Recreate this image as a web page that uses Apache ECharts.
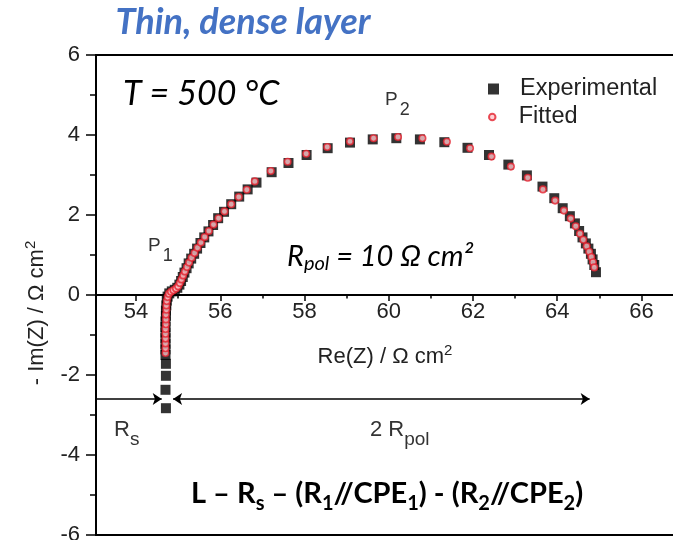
<!DOCTYPE html>
<html>
<head>
<meta charset="utf-8">
<script src="https://cdn.jsdelivr.net/npm/echarts@6/dist/echarts.min.js"></script>
<style>
  html, body { margin: 0; padding: 0; background: #fff; }
  #chart { width: 673px; height: 540px; }
</style>
</head>
<body>
<div id="chart"></div>
<script>
// Impedance spectrum (Nyquist plot), T = 500 °C
const expRe = [54.71, 54.70, 54.71, 54.71, 54.70, 54.70, 54.70, 54.70, 54.70, 54.70, 54.70, 54.71, 54.71, 54.72, 54.73, 54.75,
  54.79, 54.85, 54.92, 54.98, 55.03, 55.07, 55.11, 55.15, 55.20, 55.25, 55.31, 55.38, 55.45, 55.53, 55.62, 55.72,
  55.83, 55.95, 56.09, 56.26, 56.45, 56.65, 56.86, 57.22, 57.62, 58.05, 58.55, 59.08, 59.62, 60.18, 60.74, 61.32,
  61.87, 62.38, 62.84, 63.28, 63.65, 63.93, 64.13, 64.30, 64.42, 64.52, 64.60, 64.68, 64.74, 64.80, 64.84, 64.88, 64.92];
const expIm = [-2.83, -2.37, -2.02, -1.72, -1.50, -1.36, -1.22, -1.08, -0.94, -0.80, -0.66, -0.52, -0.39, -0.26, -0.14, -0.04,
  0.04, 0.09, 0.13, 0.18, 0.26, 0.35, 0.45, 0.56, 0.67, 0.79, 0.91, 1.03, 1.16, 1.30, 1.44, 1.59,
  1.75, 1.92, 2.08, 2.27, 2.46, 2.64, 2.81, 3.07, 3.30, 3.50, 3.67, 3.81, 3.89, 3.92, 3.89, 3.82,
  3.68, 3.50, 3.26, 2.99, 2.71, 2.42, 2.17, 1.97, 1.79, 1.60, 1.44, 1.29, 1.16, 1.03, 0.89, 0.75, 0.57];

const fitRe = [54.70, 54.70, 54.70, 54.70, 54.70, 54.70, 54.71, 54.71, 54.71, 54.72, 54.72, 54.73, 54.75, 54.78, 54.83, 54.89,
  54.95, 55.00, 55.04, 55.08, 55.12, 55.16, 55.21, 55.26, 55.32, 55.39, 55.46, 55.54, 55.63, 55.73, 55.84, 55.96,
  56.10, 56.26, 56.44, 56.63, 56.82, 57.20, 57.60, 58.04, 58.54, 59.08, 59.64, 60.22, 60.80, 61.38, 61.93, 62.44,
  62.90, 63.30, 63.66, 63.95, 64.16, 64.32, 64.44, 64.54, 64.62, 64.70, 64.76, 64.81, 64.85, 64.88];
const fitIm = [-1.45, -1.33, -1.21, -1.09, -0.97, -0.85, -0.73, -0.61, -0.49, -0.37, -0.26, -0.15, -0.05, 0.03, 0.08, 0.12,
  0.16, 0.22, 0.30, 0.39, 0.49, 0.59, 0.70, 0.81, 0.93, 1.05, 1.18, 1.31, 1.45, 1.60, 1.76, 1.92,
  2.09, 2.27, 2.45, 2.63, 2.84, 3.10, 3.33, 3.53, 3.70, 3.84, 3.92, 3.95, 3.92, 3.83, 3.67, 3.46,
  3.21, 2.93, 2.64, 2.36, 2.11, 1.91, 1.72, 1.53, 1.38, 1.22, 1.08, 0.95, 0.82, 0.69];

// Axis ticks
const reMajorTicks = [54, 56, 58, 60, 62, 64, 66];
const reMinorTicks = [55, 57, 59, 61, 63, 65];
const reRange = [53.05, 66.82];
const imRange = [-6, 6];

// Resistance arrows: R_s (from axis to intercept) and 2 R_pol (arc span)
const rsArrowRe = [53.05, 54.61];
const rpolArrowRe = [54.88, 64.77];
const arrowIm = -2.6;

const arial = 'Arial, "Liberation Sans", sans-serif';
const lato = 'Lato, Carlito, Calibri, sans-serif';
const ink = '#222';

// plot geometry (pixels)
const gridLeft = 96, gridTop = 55, gridBottom = 5, chartH = 540;
const pxPerIm = (chartH - gridTop - gridBottom) / (imRange[1] - imRange[0]);
const zeroLineHeight = imRange[1] * pxPerIm;      // distance from top of plot down to Im = 0
const minorTickDepth = 3.5 / pxPerIm;             // short ticks below the Re axis

const zip = (xs, ys) => xs.map((x, i) => [x, ys[i]]);

const chart = echarts.init(document.getElementById('chart'), null, { renderer: 'canvas' });

chart.setOption({
  animation: false,
  backgroundColor: '#fff',
  grid: [
    {
      // data area with frame
      left: gridLeft, right: -3, top: gridTop, bottom: gridBottom,
      outerBoundsMode: 'none', containLabel: false,
      show: true, borderColor: '#000', borderWidth: 2, backgroundColor: 'transparent'
    },
    {
      // upper half: its bottom edge carries the Re axis through Im = 0
      left: gridLeft, right: -3, top: gridTop, height: zeroLineHeight,
      outerBoundsMode: 'none', containLabel: false, show: false
    }
  ],
  xAxis: [
    { gridIndex: 0, type: 'value', min: reRange[0], max: reRange[1], show: false },
    {
      gridIndex: 1, type: 'value', min: reRange[0], max: reRange[1], position: 'bottom',
      axisLine: { onZero: false, lineStyle: { color: '#000', width: 2 } },
      axisTick: { customValues: reMajorTicks, length: 6, lineStyle: { color: '#000', width: 1.5 } },
      axisLabel: { customValues: reMajorTicks, fontSize: 22, fontFamily: arial, color: ink, margin: 6 },
      splitLine: { show: false }
    }
  ],
  yAxis: [
    {
      gridIndex: 0, type: 'value', min: imRange[0], max: imRange[1], interval: 2,
      axisLine: { onZero: false, lineStyle: { color: '#000', width: 2 } },
      axisTick: { length: 10, lineStyle: { color: '#000', width: 1.5 } },
      minorTick: { show: true, splitNumber: 2, length: 6, lineStyle: { color: '#000', width: 1.5 } },
      axisLabel: { fontSize: 22, fontFamily: arial, color: ink, margin: 16 },
      splitLine: { show: false }
    },
    { gridIndex: 1, type: 'value', min: 0, max: imRange[1], show: false }
  ],
  legend: [
    {
      data: ['Experimental'], orient: 'vertical', left: 483, top: 72,
      itemWidth: 11, itemHeight: 11, icon: 'rect',
      textStyle: { fontSize: 23.5, fontFamily: arial, color: ink, padding: [0, 0, 0, 16] }
    },
    {
      data: ['Fitted'], orient: 'vertical', left: 483, top: 100,
      itemWidth: 11, itemHeight: 6.5, icon: 'circle',
      textStyle: { fontSize: 23.5, fontFamily: arial, color: ink, padding: [0, 0, 0, 16] }
    }
  ],
  series: [
    {
      name: 'Experimental', type: 'scatter', symbol: 'rect', symbolSize: 10,
      itemStyle: { color: '#000' },
      data: zip(expRe, expIm), z: 2
    },
    {
      name: 'Fitted', type: 'scatter', symbol: 'circle', symbolSize: 6.5,
      itemStyle: { color: '#ffc6cb', borderColor: '#e3222e', borderWidth: 1.6 },
      data: zip(fitRe, fitIm), z: 3
    },
    {
      name: 'arrows', type: 'line', data: [], silent: true,
      markLine: {
        silent: true, symbolSize: 9, animation: false,
        lineStyle: { color: '#000', width: 1.5, type: 'solid' },
        label: { show: false },
        data: [
          [{ coord: [rsArrowRe[0], arrowIm], symbol: 'none' }, { coord: [rsArrowRe[1], arrowIm], symbol: 'arrow' }],
          [{ coord: [rpolArrowRe[0], arrowIm], symbol: 'arrow' }, { coord: [rpolArrowRe[1], arrowIm], symbol: 'arrow' }]
        ]
      }
    },
    {
      // minor ticks of the Re axis (odd values)
      name: 'minorTicks', type: 'line', data: [], silent: true,
      markLine: {
        silent: true, symbol: 'none', animation: false,
        lineStyle: { color: '#000', width: 1.5, type: 'solid' },
        label: { show: false },
        data: reMinorTicks.map(t => [{ coord: [t, 0] }, { coord: [t, -minorTickDepth] }])
      }
    }
  ],
  graphic: [
    {
      type: 'text', x: 243, y: 22,
      style: { text: 'Thin, dense layer', fill: '#4472C4', fontFamily: lato, fontSize: 36, fontWeight: 'bold', fontStyle: 'italic', align: 'center', verticalAlign: 'middle' }
    },
    {
      type: 'text', x: 123, y: 94,
      style: { text: 'T = 500 °C', fill: '#000', fontFamily: lato, fontSize: 34, fontStyle: 'italic', align: 'left', verticalAlign: 'middle' }
    },
    {
      type: 'text', x: 385, y: 100,
      style: {
        text: '{m|P}{s|2}', align: 'left', verticalAlign: 'middle',
        rich: {
          m: { fontSize: 19, fontFamily: arial, fill: '#333', lineHeight: 38, verticalAlign: 'middle' },
          s: { fontSize: 18, fontFamily: arial, fill: '#333', lineHeight: 38, verticalAlign: 'bottom', padding: [0, 0, 0, 2] }
        }
      }
    },
    {
      type: 'text', x: 148, y: 245.5,
      style: {
        text: '{m|P}{s|1}', align: 'left', verticalAlign: 'middle',
        rich: {
          m: { fontSize: 19, fontFamily: arial, fill: '#333', lineHeight: 40, verticalAlign: 'middle' },
          s: { fontSize: 18, fontFamily: arial, fill: '#333', lineHeight: 40, verticalAlign: 'bottom', padding: [0, 0, 0, 2] }
        }
      }
    },
    {
      type: 'text', x: 287, y: 257,
      style: {
        text: '{m|R}{s|pol}{m| = 10 Ω cm²}', align: 'left', verticalAlign: 'middle',
        rich: {
          m: { fontSize: 29, fontFamily: lato, fontStyle: 'italic', fill: '#000', lineHeight: 34, verticalAlign: 'middle' },
          s: { fontSize: 20, fontFamily: lato, fontStyle: 'italic', fill: '#000', lineHeight: 34, verticalAlign: 'bottom' }
        }
      }
    },
    {
      type: 'text', x: 114, y: 430,
      style: {
        text: '{m|R}{s|s}', align: 'left', verticalAlign: 'middle',
        rich: {
          m: { fontSize: 22, fontFamily: arial, fill: '#333', lineHeight: 39, verticalAlign: 'middle' },
          s: { fontSize: 19, fontFamily: arial, fill: '#333', lineHeight: 39, verticalAlign: 'bottom' }
        }
      }
    },
    {
      type: 'text', x: 370, y: 430,
      style: {
        text: '{m|2 R}{s|pol}', align: 'left', verticalAlign: 'middle',
        rich: {
          m: { fontSize: 22, fontFamily: arial, fill: '#333', lineHeight: 39, verticalAlign: 'middle' },
          s: { fontSize: 19, fontFamily: arial, fill: '#333', lineHeight: 39, verticalAlign: 'bottom' }
        }
      }
    },
    {
      type: 'text', x: 191, y: 494,
      style: {
        text: '{m|L – R}{s|s}{m| – (R}{s|1}{m|//CPE}{s|1}{m|) - (R}{s|2}{m|//CPE}{s|2}{m|)}',
        align: 'left', verticalAlign: 'middle',
        rich: {
          m: { fontSize: 29, fontFamily: lato, fontWeight: 'bold', fill: '#000', lineHeight: 40, verticalAlign: 'middle' },
          s: { fontSize: 20, fontFamily: lato, fontWeight: 'bold', fill: '#000', lineHeight: 40, verticalAlign: 'bottom' }
        }
      }
    },
    {
      type: 'text', x: 385, y: 357,
      style: {
        text: '{m|Re(Z) / Ω cm}{p|2}', align: 'center', verticalAlign: 'middle',
        rich: {
          m: { fontSize: 22, fontFamily: arial, fill: ink, lineHeight: 27, verticalAlign: 'middle' },
          p: { fontSize: 15, fontFamily: arial, fill: ink, lineHeight: 27, verticalAlign: 'top' }
        }
      }
    },
    {
      type: 'text', x: 37, y: 313, rotation: Math.PI / 2,
      style: {
        text: '{m|- Im(Z) / Ω cm}{p|2}', align: 'center', verticalAlign: 'middle',
        rich: {
          m: { fontSize: 22, fontFamily: arial, fill: ink, lineHeight: 27, verticalAlign: 'middle' },
          p: { fontSize: 15, fontFamily: arial, fill: ink, lineHeight: 27, verticalAlign: 'top' }
        }
      }
    }
  ]
});
</script>
</body>
</html>
